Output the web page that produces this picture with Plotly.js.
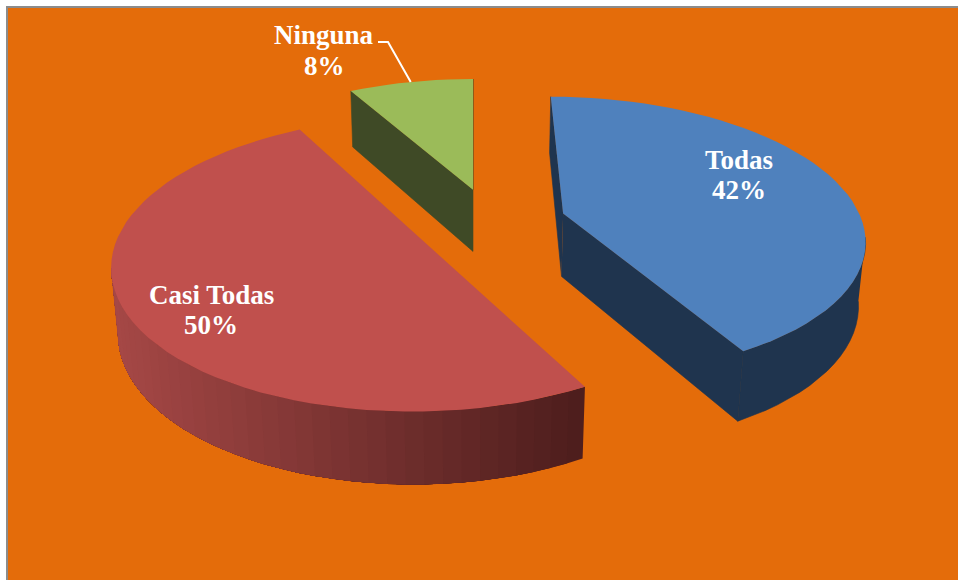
<!DOCTYPE html>
<html>
<head>
<meta charset="utf-8">
<script src="https://cdn.plot.ly/plotly-3.0.1.min.js"></script>
<style>html, body { margin: 0; padding: 0; background: #fff; }</style>
</head>
<body>
<div id="chart" style="width:958px;height:580px"></div>
<script>
const labels = ['Todas', 'Casi Todas', 'Ninguna'];
const values = [42, 50, 8];
const explodes = [0.25, 0.262, 0.25];
const topColors = ['#4F81BD', '#C0504D', '#9BBB59'];
const wallColors = ['#1F344E', null, '#3F4A26'];
const labelCenters = [[738.5, 160, 190], [211, 295, 325], [324, 35, 66]];

// Red rim is shaded left to right
const shadeLeft = [166, 72, 70];
const shadeRight = [76, 29, 28];

// Fitted by eye: pie plane seen from above with some perspective
const vanishX = 473, horizonY = 222;
const radius = 299, depth = 138, height = 64.5;
const persp = 0.16, perspZ = 0.018, shiftX = 18.6;

function project(X, Y, Z) {
    const w = 1 + persp * Y - perspZ * Z;
    return [vanishX + (radius * X + shiftX) / w, horizonY - (depth * Y + height * Z) / w];
}

function polygon(points, color, lineWidth) {
    return {
        x: points.map(p => p[0]),
        y: points.map(p => p[1]),
        type: 'scatter',
        mode: 'lines',
        fill: 'toself',
        fillcolor: color,
        line: { color: color, width: lineWidth || 0 },
        hoverinfo: 'skip',
        showlegend: false
    };
}

const total = values.reduce((a, b) => a + b, 0);
let data = [];
let leaderEnd = null;
let start = 0;

values.forEach((v, i) => {
    const sweep = v / total * 2 * Math.PI;
    const mid = start + sweep / 2;
    const ox = explodes[i] * Math.sin(mid);
    const oy = explodes[i] * Math.cos(mid);
    const rim = t => [ox + Math.sin(t), oy + Math.cos(t)];

    const steps = Math.max(6, Math.round(sweep / (Math.PI / 60)));
    const angles = [];
    for (let s = 0; s <= steps; s++) angles.push(start + sweep * s / steps);

    const topRim = angles.map(t => project(...rim(t), 0));
    const botRim = angles.map(t => project(...rim(t), -1));
    const apexTop = project(ox, oy, 0);
    const apexBot = project(ox, oy, -1);

    // only the near side of the rim shows; stop at the silhouette (about 100 deg),
    // past it the wall polygon folds over itself and leaves a hole
    const nearAngles = angles.filter(t => Math.cos(t) < -0.17);
    const nearTop = nearAngles.map(t => project(...rim(t), 0));
    const nearBot = nearAngles.map(t => project(...rim(t), -1));

    if (wallColors[i]) {
        // thin stroke hides the seams between the wall pieces
        data.push(polygon([apexTop, topRim[0], botRim[0], apexBot], wallColors[i], 0.6));
        data.push(polygon([apexTop, topRim[steps], botRim[steps], apexBot], wallColors[i], 0.6));
        if (nearTop.length > 1) data.push(polygon(nearTop.concat(nearBot.slice().reverse()), wallColors[i], 0.6));
    } else {
        // shaded rim: each strip runs to the far end and the next one paints over it, so no seams
        const xs = nearTop.map(p => p[0]);
        const xMin = Math.min(...xs), xMax = Math.max(...xs);
        for (let s = 0; s < xs.length - 1; s++) {
            const k = ((xs[s] + xs[s + 1]) / 2 - xMin) / (xMax - xMin);
            const c = shadeLeft.map((l, n) => Math.round(l + (shadeRight[n] - l) * k));
            data.push(polygon(nearTop.slice(s).concat(nearBot.slice(s).reverse()), `rgb(${c.join(',')})`));
        }
    }
    data.push(polygon([apexTop].concat(topRim), topColors[i]));

    if (labels[i] === 'Ninguna') leaderEnd = project(...rim(mid), 0);
    start += sweep;
});

let annotations = [];
labels.forEach((name, i) => {
    const c = labelCenters[i];
    const font = { family: '"Liberation Serif", serif', size: 27, color: '#FFFFFF' };
    annotations.push({ x: c[0], y: c[1], xref: 'x', yref: 'y', text: '<b>' + name + '</b>', showarrow: false, font: font, xanchor: 'center', yanchor: 'middle' });
    annotations.push({ x: c[0], y: c[2], xref: 'x', yref: 'y', text: '<b>' + Math.round(values[i] / total * 100) + '%</b>', showarrow: false, font: font, xanchor: 'center', yanchor: 'middle' });
});

let layout = {
    width: 958,
    height: 580,
    margin: { l: 0, r: 0, t: 0, b: 0 },
    paper_bgcolor: '#FFFFFF',
    plot_bgcolor: '#FFFFFF',
    showlegend: false,
    xaxis: { range: [0, 958], visible: false, fixedrange: true },
    yaxis: { range: [580, 0], visible: false, fixedrange: true },
    shapes: [
        { type: 'rect', xref: 'x', yref: 'y', x0: 7, y0: 7, x1: 980, y1: 600, fillcolor: '#E46C0A', line: { color: '#8C8C8C', width: 2 }, layer: 'below' },
        { type: 'path', xref: 'x', yref: 'y', path: `M 378 42 L 388 42 L ${leaderEnd[0]} ${leaderEnd[1]}`, line: { color: '#FFFFFF', width: 2 }, layer: 'above' }
    ],
    annotations: annotations
};

Plotly.newPlot('chart', data, layout, { displayModeBar: false, staticPlot: true });
</script>
</body>
</html>
